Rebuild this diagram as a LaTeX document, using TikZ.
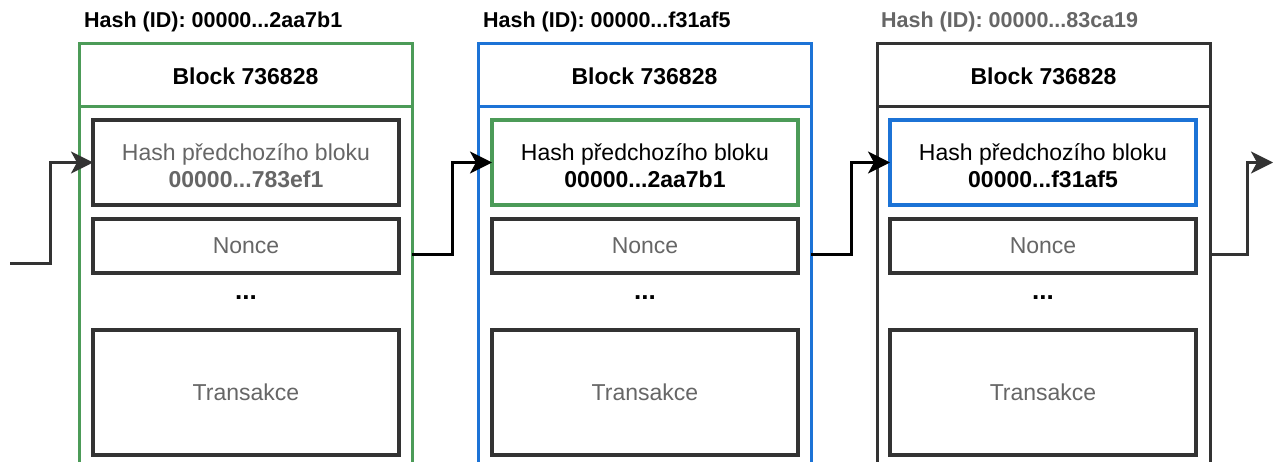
\documentclass[tikz,border=0pt]{standalone}
\usepackage{fontspec}
\setmainfont{Liberation Sans}
\usetikzlibrary{arrows.meta}
\definecolor{grn}{RGB}{76,155,88}
\definecolor{blu}{RGB}{28,115,214}
\definecolor{dk}{RGB}{51,51,51}
\definecolor{txtgray}{RGB}{102,102,102}
\begin{document}
\begin{tikzpicture}[x=1pt,y=-1pt,
  blockbox/.style={draw, line width=3pt, minimum width=333pt, minimum height=440pt, anchor=north west, inner sep=0pt, outer sep=0pt},
  innerbox/.style={draw=dk, line width=4pt, minimum width=306pt, inner sep=0pt, outer sep=0pt, align=center, font=\fontsize{23}{28}\selectfont},
  hashtext/.style={inner sep=0pt, align=center, yshift=-3pt, font=\fontsize{23}{27}\selectfont},
  titletext/.style={anchor=west, inner sep=0pt, font=\fontsize{21.5}{25}\selectfont\bfseries},
  headtext/.style={inner sep=0pt, font=\fontsize{23}{27}\selectfont\bfseries},
  dotstext/.style={inner sep=0pt, font=\fontsize{26}{28}\selectfont\bfseries},
  conn/.style={line width=3pt, -{Stealth[length=22pt,width=22pt,inset=6pt]}},
]
\clip (0,0) rectangle (1273,462);
\fill[white] (0,0) rectangle (1273,462);

% ---------- Block 1 ----------
\node[titletext] (t1) at (84,22) {Hash (ID): 00000...2aa7b1};
\node[blockbox, draw=grn] (b1) at (79,44) {};
\draw[grn, line width=3pt] (b1.west |- 0,107) -- (b1.east |- 0,107);
\node[headtext] (h1) at (245.5,76) {Block 736828};
\node[innerbox, minimum height=85pt, label={[hashtext, text=txtgray]center:Hash předchozího bloku\\\textbf{00000...783ef1}}] (hp1) at (246,162.5) {};
\node[innerbox, minimum height=54pt, text=txtgray] (n1) at (246,246) {\raisebox{-1.5pt}{Nonce}};
\node[dotstext] (d1) at (246,298) {...};
\node[innerbox, minimum height=125pt, text=txtgray] (tr1) at (246,392.5) {\raisebox{-2pt}{Transakce}};

% ---------- Block 2 ----------
\node[titletext] (t2) at (483,22) {Hash (ID): 00000...f31af5};
\node[blockbox, draw=blu] (b2) at (478,44) {};
\draw[blu, line width=3pt] (b2.west |- 0,107) -- (b2.east |- 0,107);
\node[headtext] (h2) at (644.5,76) {Block 736828};
\node[innerbox, draw=grn, minimum height=85pt, label={[hashtext]center:Hash předchozího bloku\\\textbf{00000...2aa7b1}}] (hp2) at (645,162.5) {};
\node[innerbox, minimum height=54pt, text=txtgray] (n2) at (645,246) {\raisebox{-1.5pt}{Nonce}};
\node[dotstext] (d2) at (645,298) {...};
\node[innerbox, minimum height=125pt, text=txtgray] (tr2) at (645,392.5) {\raisebox{-2pt}{Transakce}};

% ---------- Block 3 ----------
\node[titletext, text=txtgray] (t3) at (881,22) {Hash (ID): 00000...83ca19};
\node[blockbox, draw=dk] (b3) at (877,44) {};
\draw[dk, line width=3pt] (b3.west |- 0,107) -- (b3.east |- 0,107);
\node[headtext] (h3) at (1043.5,76) {Block 736828};
\node[innerbox, draw=blu, minimum height=85pt, label={[hashtext]center:Hash předchozího bloku\\\textbf{00000...f31af5}}] (hp3) at (1043,162.5) {};
\node[innerbox, minimum height=54pt, text=txtgray] (n3) at (1043,246) {\raisebox{-1.5pt}{Nonce}};
\node[dotstext] (d3) at (1043,298) {...};
\node[innerbox, minimum height=125pt, text=txtgray] (tr3) at (1043,392.5) {\raisebox{-2pt}{Transakce}};

% ---------- Connectors ----------
\coordinate (in0) at (10,263);
\coordinate (o1) at (b1.east |- 0,254);
\coordinate (o2) at (b2.east |- 0,254);
\coordinate (o3) at (b3.east |- 0,254);
\coordinate (endc) at (1273,162.5);
\draw[conn, dk] (in0) -- ++(40,0) |- (hp1.west);
\draw[conn, black] (o1) -- ++(40,0) |- (hp2.west);
\draw[conn, black] (o2) -- ++(40,0) |- (hp3.west);
\draw[conn, dk] (o3) -- ++(37,0) |- (endc);
\end{tikzpicture}
\end{document}
